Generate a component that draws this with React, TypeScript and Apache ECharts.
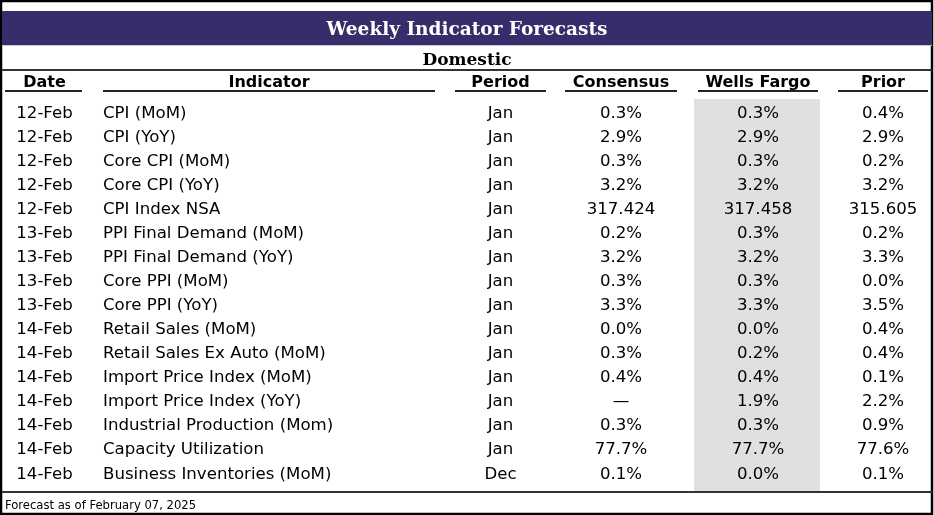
import React, { useEffect, useRef } from "react";
import * as echarts from "echarts";

const title = "Weekly Indicator Forecasts";
const section = "Domestic";
const footer = "Forecast as of February 07, 2025";
const headers = ["Date", "Indicator", "Period", "Consensus", "Wells Fargo", "Prior"];
const dates = ["12-Feb", "12-Feb", "12-Feb", "12-Feb", "12-Feb", "13-Feb", "13-Feb", "13-Feb", "13-Feb", "14-Feb", "14-Feb", "14-Feb", "14-Feb", "14-Feb", "14-Feb", "14-Feb"];
const indicators = ["CPI (MoM)", "CPI (YoY)", "Core CPI (MoM)", "Core CPI (YoY)", "CPI Index NSA", "PPI Final Demand (MoM)", "PPI Final Demand (YoY)", "Core PPI (MoM)", "Core PPI (YoY)", "Retail Sales (MoM)", "Retail Sales Ex Auto (MoM)", "Import Price Index (MoM)", "Import Price Index (YoY)", "Industrial Production (Mom)", "Capacity Utilization", "Business Inventories (MoM)"];
const periods = ["Jan", "Jan", "Jan", "Jan", "Jan", "Jan", "Jan", "Jan", "Jan", "Jan", "Jan", "Jan", "Jan", "Jan", "Jan", "Dec"];
const consensus = ["0.3%", "2.9%", "0.3%", "3.2%", "317.424", "0.2%", "3.2%", "0.3%", "3.3%", "0.0%", "0.3%", "0.4%", "—", "0.3%", "77.7%", "0.1%"];
const wellsFargo = ["0.3%", "2.9%", "0.3%", "3.2%", "317.458", "0.3%", "3.2%", "0.3%", "3.3%", "0.0%", "0.2%", "0.4%", "1.9%", "0.3%", "77.7%", "0.0%"];
const prior = ["0.4%", "2.9%", "0.2%", "3.2%", "315.605", "0.2%", "3.3%", "0.0%", "3.5%", "0.4%", "0.4%", "0.1%", "2.2%", "0.9%", "77.6%", "0.1%"];

const SANS = "'DejaVu Sans', Verdana, sans-serif";
const SERIF = "'DejaVu Serif', Georgia, serif";

export default function App() {
  const ref = useRef<HTMLDivElement>(null);
  useEffect(() => {
    if (!ref.current) return;
    const chart = echarts.init(ref.current, undefined, { renderer: "svg" });
    const W = 934;
    const cols = [
      { x0: 5, x1: 82, cx: 44.5, align: "center" },
      { x0: 103, x1: 435, cx: 269, align: "left", lx: 103 },
      { x0: 455, x1: 546, cx: 500.5, align: "center" },
      { x0: 565, x1: 677, cx: 621, align: "center" },
      { x0: 698, x1: 818, cx: 758, align: "center" },
      { x0: 838, x1: 928, cx: 883, align: "center" },
    ];
    const rowY0 = 112;
    const rowH = 24.07;
    const g: any[] = [];
    g.push({ type: "rect", shape: { x: 1, y: 1, width: W - 3, height: 513 }, style: { fill: "#fff", stroke: "#000", lineWidth: 2.5 } });
    g.push({ type: "rect", shape: { x: 2, y: 11, width: W - 4, height: 34 }, style: { fill: "#382c6b" } });
    g.push({ type: "line", shape: { x1: 2, y1: 45.5, x2: W - 2, y2: 45.5 }, style: { stroke: "#c9c6d8", lineWidth: 1 } });
    g.push({ type: "text", x: W / 2, y: 28, style: { text: title, fill: "#fff", font: `bold 18.5px ${SERIF}`, align: "center", verticalAlign: "middle" } });
    g.push({ type: "text", x: W / 2, y: 58.5, style: { text: section, fill: "#000", font: `bold 17px ${SERIF}`, align: "center", verticalAlign: "middle" } });
    g.push({ type: "line", shape: { x1: 2, y1: 70, x2: W - 2, y2: 70 }, style: { stroke: "#333", lineWidth: 2 } });
    g.push({ type: "rect", shape: { x: 694, y: 99, width: 126, height: 393 }, style: { fill: "#e0e0e0" } });
    headers.forEach((h, i) => {
      const c = cols[i];
      g.push({ type: "text", x: c.cx, y: 81.5, style: { text: h, fill: "#000", font: `bold 16px ${SANS}`, align: "center", verticalAlign: "middle" } });
      g.push({ type: "line", shape: { x1: c.x0, y1: 91, x2: c.x1, y2: 91 }, style: { stroke: "#222", lineWidth: 2 } });
    });
    const colsData = [dates, indicators, periods, consensus, wellsFargo, prior];
    colsData.forEach((arr, ci) => {
      const c = cols[ci];
      arr.forEach((v, ri) => {
        g.push({
          type: "text",
          x: c.align === "left" ? c.lx : c.cx,
          y: rowY0 + ri * rowH,
          style: { text: v, fill: "#000", font: `16.6px ${SANS}`, align: c.align, verticalAlign: "middle" },
        });
      });
    });
    g.push({ type: "line", shape: { x1: 2, y1: 492, x2: W - 2, y2: 492 }, style: { stroke: "#333", lineWidth: 2 } });
    g.push({ type: "text", x: 5, y: 505, style: { text: footer, fill: "#000", font: `11.6px ${SANS}`, align: "left", verticalAlign: "middle" } });
    chart.setOption({ animation: false, graphic: { elements: g } });
    return () => chart.dispose();
  }, []);
  return <div ref={ref} style={{ position: "fixed", left: 0, top: 0, width: 934, height: 515 }} />;
}
